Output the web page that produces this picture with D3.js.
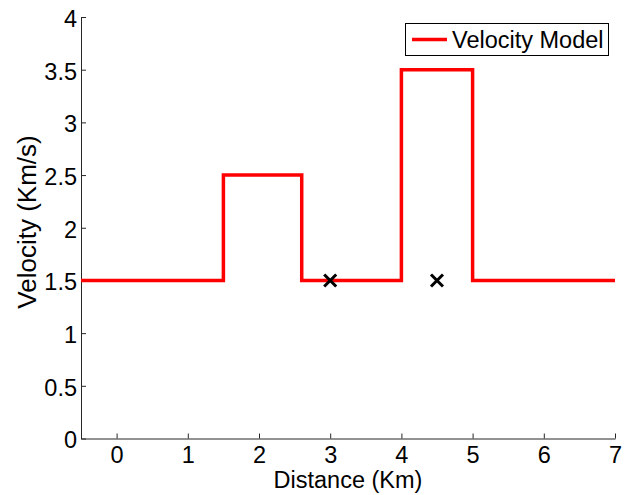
<!DOCTYPE html>
<html>
<head>
<meta charset="utf-8">
<script src="https://cdn.jsdelivr.net/npm/d3@7"></script>
<style>
  html, body { margin: 0; padding: 0; background: #fff; }
  svg { display: block; font-family: "Liberation Sans", Arial, Helvetica, sans-serif; }
</style>
</head>
<body>
<svg id="chart" width="630" height="495"></svg>
<script>
// Layered velocity model: each point starts a layer that runs to the next one
const distance = [-0.5, 1.5, 2.6, 4, 5, 7];
const velocity = [1.5, 2.5, 1.5, 3.5, 1.5, 1.5];

// Receiver / source positions
const markerDistance = [3, 4.5];
const markerVelocity = [1.5, 1.5];

const xTicks = [0, 1, 2, 3, 4, 5, 6, 7];
const yTicks = [0, 0.5, 1, 1.5, 2, 2.5, 3, 3.5, 4];
const yTickLabels = ["0", "0.5", "1", "1.5", "2", "2.5", "3", "3.5", "4"];

const seriesName = "Velocity Model";
const xLabel = "Distance (Km)";
const yLabel = "Velocity (Km/s)";

const W = 630, H = 495;
const margin = { top: 17, right: 15, bottom: 56.5, left: 81 };
const svg = d3.select("#chart");

const x = d3.scaleLinear().domain([-0.5, 7]).range([margin.left, W - margin.right]);
const y = d3.scaleLinear().domain([0, 4]).range([H - margin.bottom, margin.top]);

const fontSize = 23.5;

// Axes with ticks pointing into the plot
const xAxis = d3.axisBottom(x).tickValues(xTicks).tickFormat(d3.format("d"))
  .tickSizeInner(-5).tickSizeOuter(0).tickPadding(8);
const yAxis = d3.axisLeft(y).tickValues(yTicks).tickFormat((d, i) => yTickLabels[i])
  .tickSizeInner(-5).tickSizeOuter(0).tickPadding(4);

const gx = svg.append("g").attr("transform", `translate(0,${y(0)})`).call(xAxis);
const gy = svg.append("g").attr("transform", `translate(${x(-0.5)},0)`).call(yAxis);

[gx, gy].forEach(g => {
  g.select(".domain").attr("stroke", "#262626").attr("stroke-width", 1);
  g.selectAll(".tick line").attr("stroke", "#262626").attr("stroke-width", 1);
  g.selectAll(".tick text").attr("fill", "#000").attr("font-size", fontSize)
    .attr("font-family", "Liberation Sans, Arial, sans-serif");
});
gy.selectAll(".tick text").attr("dy", "0.40em");

// Axis titles
svg.append("text")
  .attr("x", (x(-0.5) + x(7)) / 2)
  .attr("y", 488)
  .attr("text-anchor", "middle")
  .attr("font-size", fontSize)
  .text(xLabel);

svg.append("text")
  .attr("transform", `translate(36,222) rotate(-90)`)
  .attr("text-anchor", "middle")
  .attr("font-size", 26)
  .text(yLabel);

// Velocity step profile
const pts = distance.map((d, i) => [d, velocity[i]]);
const line = d3.line().x(d => x(d[0])).y(d => y(d[1])).curve(d3.curveStepAfter);

svg.append("path")
  .datum(pts)
  .attr("fill", "none")
  .attr("stroke", "#ff0000")
  .attr("stroke-width", 3.5)
  .attr("stroke-linejoin", "miter")
  .attr("d", line);

// Cross markers
const arm = 6;
const marks = svg.append("g").attr("stroke", "#000").attr("stroke-width", 3);
markerDistance.forEach((d, i) => {
  const cx = x(d), cy = y(markerVelocity[i]);
  marks.append("line").attr("x1", cx - arm).attr("y1", cy - arm).attr("x2", cx + arm).attr("y2", cy + arm);
  marks.append("line").attr("x1", cx - arm).attr("y1", cy + arm).attr("x2", cx + arm).attr("y2", cy - arm);
});

// Legend
const legend = svg.append("g");
legend.append("rect")
  .attr("x", 405.5).attr("y", 23.5).attr("width", 203).attr("height", 32)
  .attr("fill", "#fff").attr("stroke", "#000").attr("stroke-width", 1);
legend.append("line")
  .attr("x1", 412).attr("x2", 447).attr("y1", 39.5).attr("y2", 39.5)
  .attr("stroke", "#ff0000").attr("stroke-width", 3.5);
legend.append("text")
  .attr("x", 452).attr("y", 48)
  .attr("font-size", fontSize)
  .text(seriesName);
</script>
</body>
</html>
